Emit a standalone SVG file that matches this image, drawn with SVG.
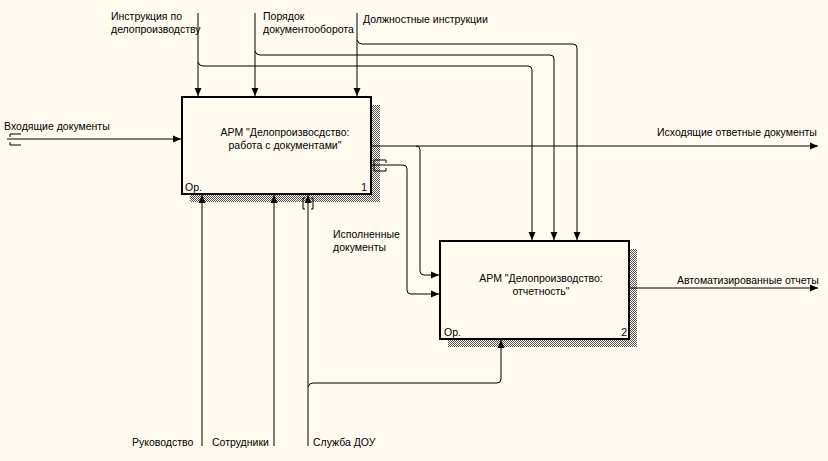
<svg xmlns="http://www.w3.org/2000/svg" width="828" height="461" viewBox="0 0 828 461">
<style>
text{font-family:"Liberation Sans",Arial,sans-serif;font-size:10.5px;fill:#000}
.ln{fill:none;stroke:#000;stroke-width:1}
.box{fill:#FFFBF0;stroke:#000;stroke-width:2}
.sh{fill:url(#hatch)}
.tn{fill:none;stroke:#000;stroke-width:1}
</style>
<defs>
<pattern id="hatch" width="2" height="2" patternUnits="userSpaceOnUse">
<rect width="2" height="2" fill="#FFFBF0"/>
<rect width="1" height="1" fill="#555"/>
<rect x="1" y="1" width="1" height="1" fill="#555"/>
</pattern>
<marker id="ar" markerUnits="userSpaceOnUse" markerWidth="8" markerHeight="8" refX="8" refY="4" orient="auto">
<path d="M0,0.5 L8,4 L0,7.5 z" fill="#000"/>
</marker>
</defs>
<rect width="828" height="461" fill="#FFFBF0"/>
<g id="node1">
<rect class="sh" x="190" y="105" width="190" height="97"/>
<rect class="box" x="182" y="97" width="189" height="97"/>
<text x="285" y="136" text-anchor="middle">АРМ "Делопроизвосдство:</text>
<text x="285" y="149" text-anchor="middle">работа с документами"</text>
<text x="185" y="191">Ор.</text>
<text x="367" y="191" text-anchor="end">1</text>
</g>
<g id="node2">
<rect class="sh" x="448" y="249" width="189" height="98"/>
<rect class="box" x="440" y="241" width="189" height="98"/>
<text x="541" y="282" text-anchor="middle">АРМ "Делопроизводство:</text>
<text x="541" y="295" text-anchor="middle">отчетность"</text>
<text x="444" y="336">Ор.</text>
<text x="627" y="336" text-anchor="end">2</text>
</g>
<g id="connectors">
<path class="ln" d="M198,13 V96" marker-end="url(#ar)"/>
<path class="ln" d="M255,13 V96" marker-end="url(#ar)"/>
<path class="ln" d="M357,13 V96" marker-end="url(#ar)"/>
<path class="ln" d="M198,62 Q199,66 203,66 H528 Q532,66 532,70 V240" marker-end="url(#ar)"/>
<path class="ln" d="M255,51 Q256,55 260,55 H550 Q554,55 554,59 V240" marker-end="url(#ar)"/>
<path class="ln" d="M357,40 Q358,44 362,44 H573 Q577,44 577,48 V240" marker-end="url(#ar)"/>
<path class="ln" d="M7,139 H181" marker-end="url(#ar)"/>
<path class="tn" d="M10,137 V134 H21 M10,142 V145 H21"/>
<path class="ln" d="M372,146 H818" marker-end="url(#ar)"/>
<path class="ln" d="M416,146 Q420,146 420,150 V271 Q420,275 424,275 H439" marker-end="url(#ar)"/>
<path class="ln" d="M372,165 H403 Q407,165 407,169 V290 Q407,294 411,294 H439" marker-end="url(#ar)"/>
<path class="tn" d="M386,163 V160 H374 V171 H386 V168"/>
<path class="ln" d="M630,288 H818" marker-end="url(#ar)"/>
<path class="ln" d="M202,446 V195" marker-end="url(#ar)"/>
<path class="ln" d="M274,446 V195" marker-end="url(#ar)"/>
<path class="ln" d="M308,446 V195" marker-end="url(#ar)"/>
<path class="tn" d="M305,198 H303 V209 H305 M311,198 H313 V209 H311"/>
<path class="ln" d="M308,387 Q309,383 313,383 H497 Q501,383 501,379 V340" marker-end="url(#ar)"/>
</g>
<g id="labels">
<text x="111" y="20">Инструкция по</text>
<text x="111" y="33">делопроизводству</text>
<text x="263" y="20">Порядок</text>
<text x="263" y="33">документооборота</text>
<text x="363" y="23">Должностные инструкции</text>
<text x="4" y="130">Входящие документы</text>
<text x="657" y="136">Исходящие ответные документы</text>
<text x="677" y="284">Автоматизированные отчеты</text>
<text x="333" y="238">Исполненные</text>
<text x="333" y="251">документы</text>
<text x="132" y="446">Руководство</text>
<text x="212" y="446">Сотрудники</text>
<text x="313" y="446">Служба ДОУ</text>
</g>
</svg>
